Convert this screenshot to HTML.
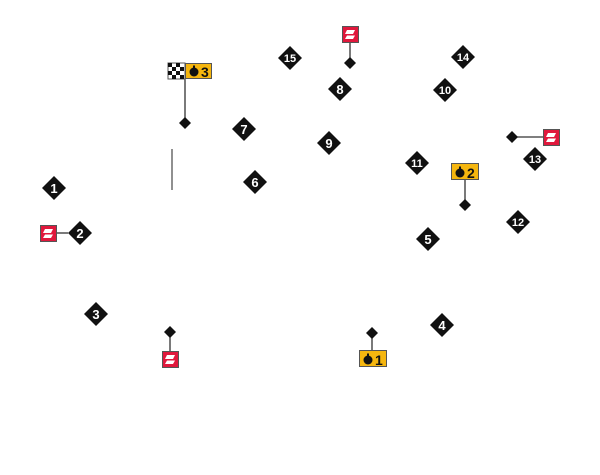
<!DOCTYPE html>
<html><head><meta charset="utf-8"><style>
html,body{margin:0;padding:0;background:#fff;width:600px;height:475px;overflow:hidden}
svg text{font-family:"Liberation Sans",sans-serif;font-weight:bold}
</style></head><body>
<svg width="600" height="475" viewBox="0 0 600 475" xmlns="http://www.w3.org/2000/svg">
<defs>
<g id="d"><polygon points="0,-12 12,0 0,12 -12,0" fill="#111"/></g>
<g id="s"><polygon points="0,-6 6,0 0,6 -6,0" fill="#111"/></g>
<g id="red"><rect x="0.5" y="0.5" width="16" height="16" fill="#e0183c" stroke="#555"/>
<polygon points="5,4 13,4 11,8 3,8" fill="#fff"/><polygon points="5,9.5 13,9.5 11,13 3,13" fill="#fff"/></g>
<g id="stop"><circle cx="0" cy="0" r="4.5" fill="#111"/><rect x="-1" y="-6.5" width="2" height="3" fill="#111"/></g>
</defs>
<g stroke="#333" stroke-width="1.3">
<line x1="185" y1="79" x2="185" y2="123"/>
<line x1="350" y1="42" x2="350" y2="63"/>
<line x1="57" y1="233" x2="68" y2="233"/>
<line x1="512" y1="137" x2="543" y2="137"/>
<line x1="465" y1="180" x2="465" y2="205"/>
<line x1="170" y1="332" x2="170" y2="351"/>
<line x1="372" y1="333" x2="372" y2="350"/>
</g>
<line x1="172" y1="149" x2="172" y2="190" stroke="#555" stroke-width="1.3"/>
<g>
<rect x="168" y="63" width="17" height="16" fill="#fff" stroke="#555"/>
<g fill="#111">
<rect x="168" y="63" width="4" height="4"/><rect x="176" y="63" width="4" height="4"/>
<rect x="172" y="67" width="4" height="4"/><rect x="180" y="67" width="4" height="4"/>
<rect x="168" y="71" width="4" height="4"/><rect x="176" y="71" width="4" height="4"/>
<rect x="172" y="75" width="4" height="4"/><rect x="180" y="75" width="4" height="4"/>
</g>
<rect x="185.5" y="63.5" width="26" height="15" fill="#f5b60f" stroke="#555"/>
<use href="#stop" x="194" y="72"/>
<text x="201" y="77" font-size="14" fill="#111">3</text>
</g>
<rect x="451.5" y="163.5" width="27" height="16" fill="#f5b60f" stroke="#555"/>
<use href="#stop" x="460" y="173"/>
<text x="467" y="178" font-size="14" fill="#111">2</text>
<rect x="359.5" y="350.5" width="27" height="16" fill="#f5b60f" stroke="#555"/>
<use href="#stop" x="368" y="360"/>
<text x="375" y="365" font-size="14" fill="#111">1</text>
<use href="#red" x="342" y="26"/>
<use href="#red" x="40" y="225"/>
<use href="#red" x="543" y="129"/>
<use href="#red" x="162" y="351"/>
<use href="#s" x="185" y="123"/><use href="#s" x="350" y="63"/>
<use href="#s" x="512" y="137"/><use href="#s" x="465" y="205"/>
<use href="#s" x="170" y="332"/><use href="#s" x="372" y="333"/>
<g font-size="13" fill="#fff" text-anchor="middle">
<use href="#d" x="54" y="188"/><text x="54" y="193">1</text>
<use href="#d" x="80" y="233"/><text x="80" y="238">2</text>
<use href="#d" x="96" y="314"/><text x="96" y="319">3</text>
<use href="#d" x="442" y="325"/><text x="442" y="330">4</text>
<use href="#d" x="428" y="239"/><text x="428" y="244">5</text>
<use href="#d" x="255" y="182"/><text x="255" y="187">6</text>
<use href="#d" x="244" y="129"/><text x="244" y="134">7</text>
<use href="#d" x="340" y="89"/><text x="340" y="94">8</text>
<use href="#d" x="329" y="143"/><text x="329" y="148">9</text>
<g font-size="11">
<use href="#d" x="445" y="90"/><text x="445" y="94">10</text>
<use href="#d" x="417" y="163"/><text x="417" y="167">11</text>
<use href="#d" x="518" y="222"/><text x="518" y="226">12</text>
<use href="#d" x="535" y="159"/><text x="535" y="163">13</text>
<use href="#d" x="463" y="57"/><text x="463" y="61">14</text>
<use href="#d" x="290" y="58"/><text x="290" y="62">15</text>
</g>
</g>
</svg>
</body></html>
